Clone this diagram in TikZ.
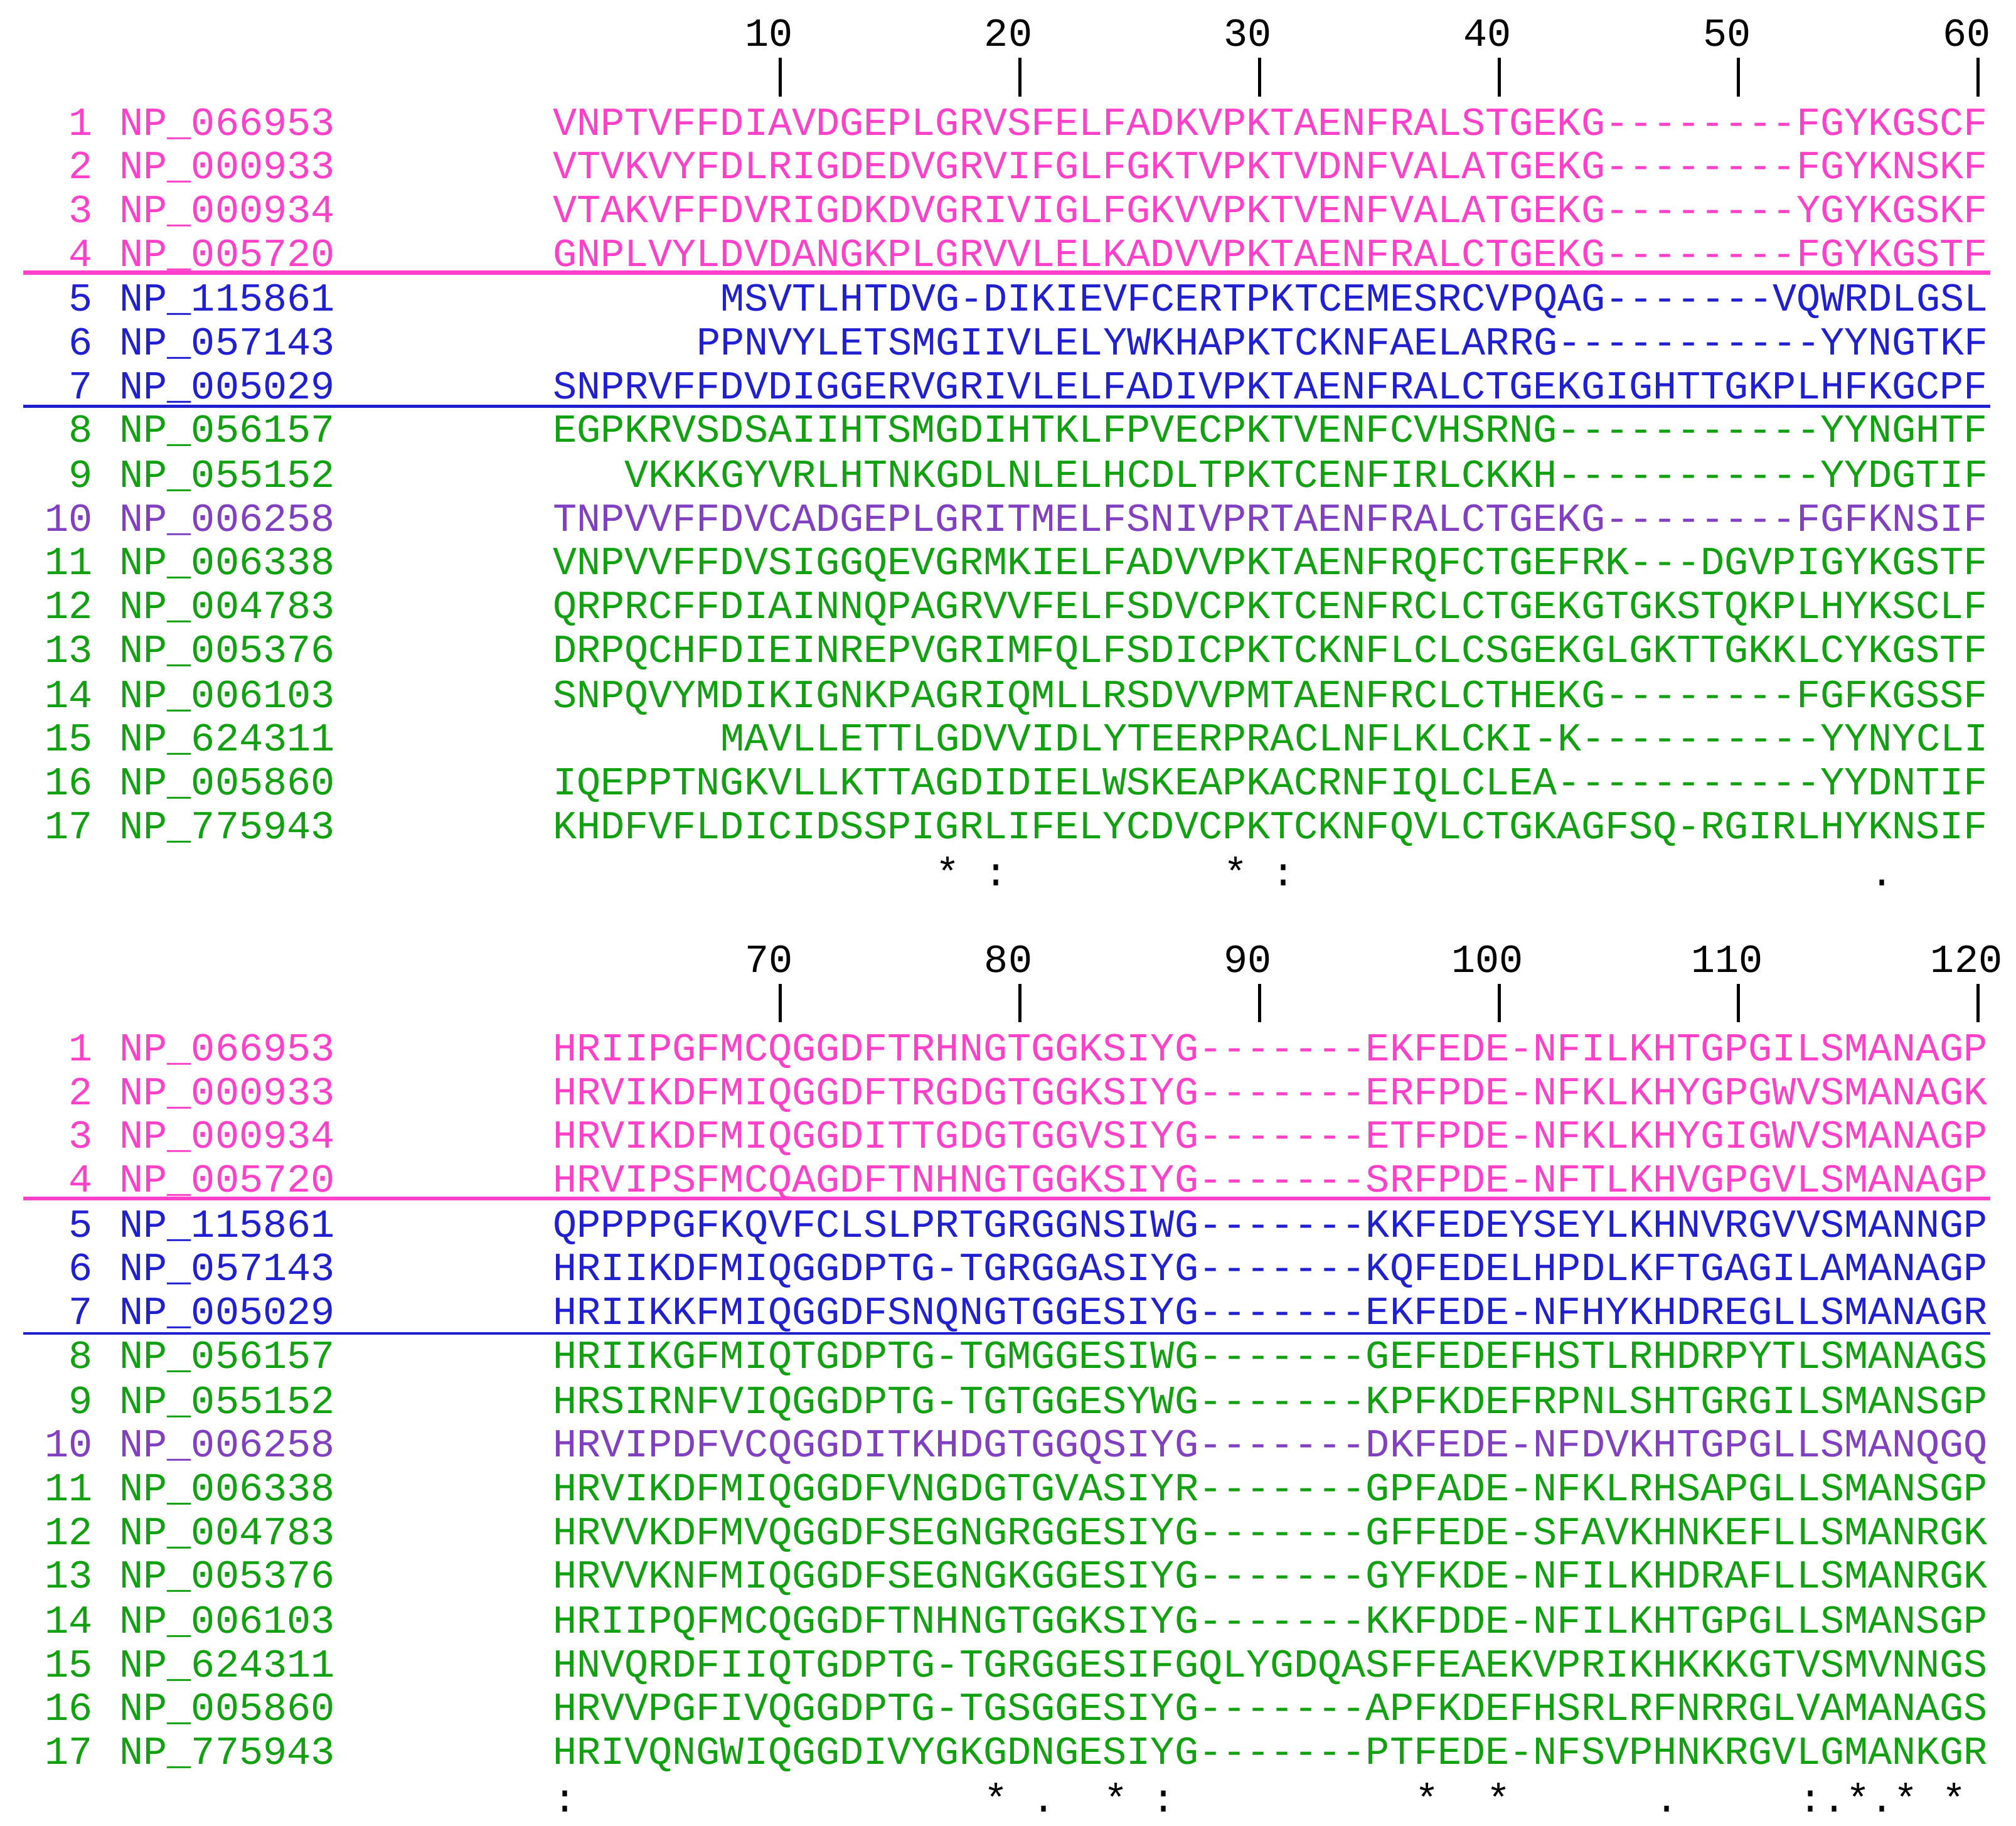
\documentclass[tikz,border=0pt]{standalone}
\usepackage{fontspec}
\setmonofont{Liberation Mono}
\definecolor{cpink}{RGB}{255,64,200}
\definecolor{cblue}{RGB}{32,32,208}
\definecolor{cgreen}{RGB}{16,160,16}
\definecolor{cpurp}{RGB}{128,64,192}
\newcommand\mysz{\ttfamily\fontsize{15.5}{18}\selectfont}
\newcommand\seqrow[7]{% #1 id, #2 y(center), #3 num, #4 name, #5 color, #6 col, #7 seq
  \node[txt,text=#5,anchor=base east] (n#1) at (72,#2+9) {#3};
  \node[txt,text=#5,anchor=base west] (l#1) at (93,#2+9) {#4};
  \node[txt,text=#5,anchor=base west] (s#1) at (430+#6*18.63,#2+9) {#7};
}
\begin{document}
\begin{tikzpicture}[x=0.5pt,y=-0.5pt,
  txt/.style={inner sep=0pt,outer sep=0pt,font=\mysz},
  tick/.style={line width=1.2pt},
  cons/.style={inner sep=0pt,font=\mysz,anchor=base}]
\useasboundingbox (0,0) rectangle (1568,1420);
\foreach \off/\b in {0/0,720/1}{
  \foreach \k [count=\i] in {10,20,30,40,50,60}{
    \pgfmathtruncatemacro\lab{\k+60*\b}
    \node[txt,anchor=base] (h\b\i) at (430+\k*18.63-0.5*18.63-9,\off+36) {\lab};
    \coordinate (t\b\i) at (430+\k*18.63-0.5*18.63,\off+45);
    \draw[tick] (t\b\i) -- ++(0,30);
  }
}
% block 1
\seqrow{a1}{96}{1}{NP\_066953}{cpink}{0}{VNPTVFFDIAVDGEPLGRVSFELFADKVPKTAENFRALSTGEKG--------FGYKGSCF}
\seqrow{a2}{130}{2}{NP\_000933}{cpink}{0}{VTVKVYFDLRIGDEDVGRVIFGLFGKTVPKTVDNFVALATGEKG--------FGYKNSKF}
\seqrow{a3}{164}{3}{NP\_000934}{cpink}{0}{VTAKVFFDVRIGDKDVGRIVIGLFGKVVPKTVENFVALATGEKG--------YGYKGSKF}
\seqrow{a4}{198}{4}{NP\_005720}{cpink}{0}{GNPLVYLDVDANGKPLGRVVLELKADVVPKTAENFRALCTGEKG--------FGYKGSTF}
\seqrow{a5}{233}{5}{NP\_115861}{cblue}{7}{MSVTLHTDVG-DIKIEVFCERTPKTCEMESRCVPQAG-------VQWRDLGSL}
\seqrow{a6}{267}{6}{NP\_057143}{cblue}{6}{PPNVYLETSMGIIVLELYWKHAPKTCKNFAELARRG-----------YYNGTKF}
\seqrow{a7}{301}{7}{NP\_005029}{cblue}{0}{SNPRVFFDVDIGGERVGRIVLELFADIVPKTAENFRALCTGEKGIGHTTGKPLHFKGCPF}
\seqrow{a8}{335}{8}{NP\_056157}{cgreen}{0}{EGPKRVSDSAIIHTSMGDIHTKLFPVECPKTVENFCVHSRNG-----------YYNGHTF}
\seqrow{a9}{370}{9}{NP\_055152}{cgreen}{3}{VKKKGYVRLHTNKGDLNLELHCDLTPKTCENFIRLCKKH-----------YYDGTIF}
\seqrow{a10}{404}{10}{NP\_006258}{cpurp}{0}{TNPVVFFDVCADGEPLGRITMELFSNIVPRTAENFRALCTGEKG--------FGFKNSIF}
\seqrow{a11}{438}{11}{NP\_006338}{cgreen}{0}{VNPVVFFDVSIGGQEVGRMKIELFADVVPKTAENFRQFCTGEFRK---DGVPIGYKGSTF}
\seqrow{a12}{472}{12}{NP\_004783}{cgreen}{0}{QRPRCFFDIAINNQPAGRVVFELFSDVCPKTCENFRCLCTGEKGTGKSTQKPLHYKSCLF}
\seqrow{a13}{506}{13}{NP\_005376}{cgreen}{0}{DRPQCHFDIEINREPVGRIMFQLFSDICPKTCKNFLCLCSGEKGLGKTTGKKLCYKGSTF}
\seqrow{a14}{541}{14}{NP\_006103}{cgreen}{0}{SNPQVYMDIKIGNKPAGRIQMLLRSDVVPMTAENFRCLCTHEKG--------FGFKGSSF}
\seqrow{a15}{575}{15}{NP\_624311}{cgreen}{7}{MAVLLETTLGDVVIDLYTEERPRACLNFLKLCKI-K----------YYNYCLI}
\seqrow{a16}{609}{16}{NP\_005860}{cgreen}{0}{IQEPPTNGKVLLKTTAGDIDIELWSKEAPKACRNFIQLCLEA-----------YYDNTIF}
\seqrow{a17}{643}{17}{NP\_775943}{cgreen}{0}{KHDFVFLDICIDSSPIGRLIFELYCDVCPKTCKNFQVLCTGKAGFSQ-RGIRLHYKNSIF}
\coordinate (pa1) at (18,212); \coordinate (pa2) at (1548,212);
\draw[cpink,line width=1.6pt] (pa1) -- (pa2);
\coordinate (ba1) at (18,316); \coordinate (ba2) at (1548,316);
\draw[cblue,line width=1pt] (ba1) -- (ba2);
\foreach \c/\s [count=\j] in {16/*,18/:,28/*,30/:,55/.}
  \node[cons] (ca\j) at (430+\c*18.63+9.3,689) {\s};
% block 2
\seqrow{b1}{816}{1}{NP\_066953}{cpink}{0}{HRIIPGFMCQGGDFTRHNGTGGKSIYG-------EKFEDE-NFILKHTGPGILSMANAGP}
\seqrow{b2}{850}{2}{NP\_000933}{cpink}{0}{HRVIKDFMIQGGDFTRGDGTGGKSIYG-------ERFPDE-NFKLKHYGPGWVSMANAGK}
\seqrow{b3}{884}{3}{NP\_000934}{cpink}{0}{HRVIKDFMIQGGDITTGDGTGGVSIYG-------ETFPDE-NFKLKHYGIGWVSMANAGP}
\seqrow{b4}{918}{4}{NP\_005720}{cpink}{0}{HRVIPSFMCQAGDFTNHNGTGGKSIYG-------SRFPDE-NFTLKHVGPGVLSMANAGP}
\seqrow{b5}{953}{5}{NP\_115861}{cblue}{0}{QPPPPGFKQVFCLSLPRTGRGGNSIWG-------KKFEDEYSEYLKHNVRGVVSMANNGP}
\seqrow{b6}{987}{6}{NP\_057143}{cblue}{0}{HRIIKDFMIQGGDPTG-TGRGGASIYG-------KQFEDELHPDLKFTGAGILAMANAGP}
\seqrow{b7}{1021}{7}{NP\_005029}{cblue}{0}{HRIIKKFMIQGGDFSNQNGTGGESIYG-------EKFEDE-NFHYKHDREGLLSMANAGR}
\seqrow{b8}{1055}{8}{NP\_056157}{cgreen}{0}{HRIIKGFMIQTGDPTG-TGMGGESIWG-------GEFEDEFHSTLRHDRPYTLSMANAGS}
\seqrow{b9}{1090}{9}{NP\_055152}{cgreen}{0}{HRSIRNFVIQGGDPTG-TGTGGESYWG-------KPFKDEFRPNLSHTGRGILSMANSGP}
\seqrow{b10}{1124}{10}{NP\_006258}{cpurp}{0}{HRVIPDFVCQGGDITKHDGTGGQSIYG-------DKFEDE-NFDVKHTGPGLLSMANQGQ}
\seqrow{b11}{1158}{11}{NP\_006338}{cgreen}{0}{HRVIKDFMIQGGDFVNGDGTGVASIYR-------GPFADE-NFKLRHSAPGLLSMANSGP}
\seqrow{b12}{1192}{12}{NP\_004783}{cgreen}{0}{HRVVKDFMVQGGDFSEGNGRGGESIYG-------GFFEDE-SFAVKHNKEFLLSMANRGK}
\seqrow{b13}{1226}{13}{NP\_005376}{cgreen}{0}{HRVVKNFMIQGGDFSEGNGKGGESIYG-------GYFKDE-NFILKHDRAFLLSMANRGK}
\seqrow{b14}{1261}{14}{NP\_006103}{cgreen}{0}{HRIIPQFMCQGGDFTNHNGTGGKSIYG-------KKFDDE-NFILKHTGPGLLSMANSGP}
\seqrow{b15}{1295}{15}{NP\_624311}{cgreen}{0}{HNVQRDFIIQTGDPTG-TGRGGESIFGQLYGDQASFFEAEKVPRIKHKKKGTVSMVNNGS}
\seqrow{b16}{1329}{16}{NP\_005860}{cgreen}{0}{HRVVPGFIVQGGDPTG-TGSGGESIYG-------APFKDEFHSRLRFNRRGLVAMANAGS}
\seqrow{b17}{1363}{17}{NP\_775943}{cgreen}{0}{HRIVQNGWIQGGDIVYGKGDNGESIYG-------PTFEDE-NFSVPHNKRGVLGMANKGR}
\coordinate (pb1) at (18,932); \coordinate (pb2) at (1548,932);
\draw[cpink,line width=1.6pt] (pb1) -- (pb2);
\coordinate (bb1) at (18,1037); \coordinate (bb2) at (1548,1037);
\draw[cblue,line width=1pt] (bb1) -- (bb2);
\foreach \c/\s [count=\j] in {0/:,18/*,20/.,23/*,25/:,36/*,39/*,46/.,52/:,53/.,54/*,55/.,56/*,58/*}
  \node[cons] (cb\j) at (430+\c*18.63+9.3,1409) {\s};
\end{tikzpicture}
\end{document}
